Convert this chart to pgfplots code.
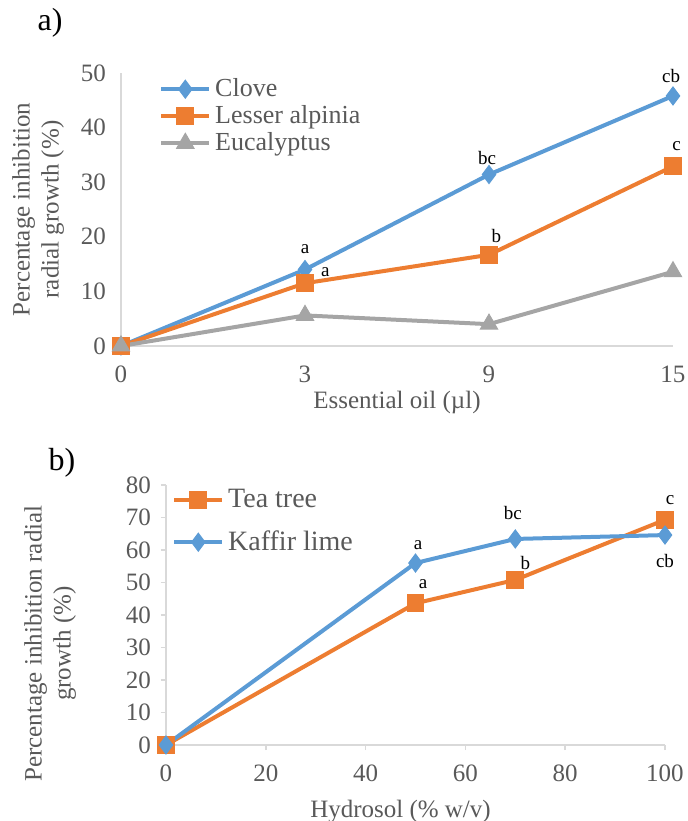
\documentclass[border=0pt]{standalone}
\usepackage{pgfplots}
\pgfplotsset{compat=1.18}
\usepackage{fontspec}
\setmainfont{Liberation Serif}
\definecolor{cblue}{HTML}{5B9BD5}
\definecolor{corange}{HTML}{ED7D31}
\definecolor{cgray}{HTML}{A5A5A5}
\definecolor{tgray}{HTML}{595959}
\definecolor{agray}{HTML}{D9D9D9}
\tikzset{lab/.style={font=\fontsize{9.5}{11}\selectfont, text=black}}
\pgfplotsset{
  myax/.style={
    scale only axis,
    axis x line=bottom, axis y line=left,
    axis line style={agray, line width=0.75pt, -},
    tick style={agray, line width=0.75pt},
    ticklabel style={font=\fontsize{12.5}{14}\selectfont, text=tgray},
    label style={font=\fontsize{12.5}{14.5}\selectfont, text=tgray},
    /pgf/number format/assume math mode=true,
    legend style={draw=none, fill=none, text=tgray, anchor=north west, cells={anchor=west}},
    legend image code/.code={\draw[mark repeat=2,mark phase=2] plot coordinates {(0cm,0cm) (0.42cm,0cm) (0.84cm,0cm)};},
    every axis plot/.append style={line width=2pt},
    clip=false,
  },
}
\begin{document}
\begin{tikzpicture}
\useasboundingbox (0,0) rectangle (344pt,410.5pt);
\node[font=\fontsize{16}{18}\selectfont, anchor=center] at (25pt,399pt) {a)};
\node[font=\fontsize{16}{18}\selectfont, anchor=center] at (31pt,179pt) {b)};
\begin{axis}[myax,
  at={(60.5pt,237.5pt)}, anchor=south west,
  width=276pt, height=136.5pt,
  xmin=0, xmax=3, ymin=0, ymax=50,
  xtick={0,1,2,3}, xticklabels={0,3,9,15},
  ytick={0,10,20,30,40,50},
  major tick length=0pt,
  xticklabel style={yshift=-6.5pt},
  yticklabel style={xshift=-4pt},
  xlabel={Essential oil (µl)},
  xlabel style={at={(axis description cs:0.5,0)}, anchor=north, yshift=-19pt},
  ylabel={Percentage inhibition\\radial growth (\%)},
  ylabel style={align=center, at={(axis description cs:-0.150,0.5)}, anchor=center, rotate=0},
  legend style={at={(axis description cs:0.058,1.01)}, row sep=-1pt, font=\fontsize{13}{15}\selectfont},
]
\addplot[cblue, mark=diamond*, mark size=4.5pt, mark options={solid, line width=0.5pt}] coordinates {(0,0) (1,14.0) (2,31.4) (3,45.8)};
\addlegendentry{Clove}
\addplot[corange, mark=square*, mark size=4.2pt, mark options={solid, line width=0.5pt}] coordinates {(0,0) (1,11.5) (2,16.7) (3,32.9)};
\addlegendentry{Lesser alpinia}
\addplot[cgray, mark=triangle*, mark size=5pt, mark options={solid, line width=0.5pt}] coordinates {(0,0) (1,5.6) (2,4.0) (3,13.6)};
\addlegendentry{Eucalyptus}
\node[lab] at (axis cs:1,17.8) {a};
\node[lab] at (axis cs:1.11,13.6) {a};
\node[lab] at (axis cs:1.99,34.4) {bc};
\node[lab] at (axis cs:2.04,20.1) {b};
\node[lab] at (axis cs:2.99,49.4) {cb};
\node[lab] at (axis cs:3.02,36.6) {c};
\end{axis}
\begin{axis}[myax,
  at={(83pt,38pt)}, anchor=south west,
  width=249.5pt, height=130pt,
  xmin=0, xmax=100, ymin=0, ymax=80,
  xtick={0,20,40,60,80,100},
  ytick={0,10,...,80},
  tick align=outside, major tick length=2.5pt,
  xticklabel style={yshift=-4pt},
  yticklabel style={xshift=-1.5pt},
  xlabel={Hydrosol (\% w/v)},
  xlabel style={at={(axis description cs:0.47,0)}, anchor=north, yshift=-24pt},
  ylabel={Percentage inhibition radial\\growth (\%)},
  ylabel style={align=center, at={(axis description cs:-0.232,0.39)}, anchor=center, rotate=0},
  legend style={at={(axis description cs:0.0,1.015)}, row sep=6pt, font=\fontsize{14}{16}\selectfont},
]
\addplot[corange, mark=square*, mark size=4.2pt, mark options={solid, line width=0.5pt}] coordinates {(0,0) (50,43.6) (70,50.8) (100,69.3)};
\addlegendentry{Tea tree}
\addplot[cblue, mark=diamond*, mark size=4.5pt, mark options={solid, line width=0.5pt}] coordinates {(0,0) (50,56.0) (70,63.4) (100,64.6)};
\addlegendentry{Kaffir lime}
\node[lab] at (axis cs:50.5,61.5) {a};
\node[lab] at (axis cs:51.5,49.5) {a};
\node[lab] at (axis cs:69.5,71.5) {bc};
\node[lab] at (axis cs:72,56) {b};
\node[lab] at (axis cs:101,75.5) {c};
\node[lab] at (axis cs:100,56.5) {cb};
\end{axis}
\end{tikzpicture}
\end{document}
